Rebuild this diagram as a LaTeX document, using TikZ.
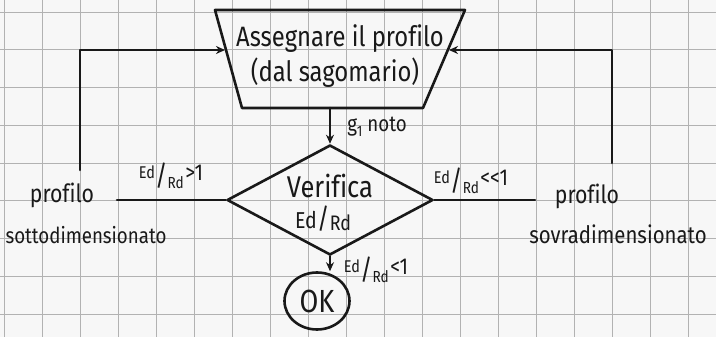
\documentclass[tikz,border=0pt]{standalone}
\usepackage{fontspec}
\setmainfont{Fira Sans}[FakeStretch=0.85, Ligatures=NoCommon]
\usetikzlibrary{shapes.geometric,arrows.meta}

\newcommand\fsz[1]{\fontsize{#1}{#1}\selectfont}
% Ed/Rd written as a slanted fraction, followed by a comparison
\newcommand\edrd[1]{%
  \raisebox{.7em}{\fsz{17}Ed}\kern.02em
  {\fsz{28}/}\kern.02em
  \raisebox{-.35em}{\fsz{16}Rd}\kern.15em
  \raisebox{.45em}{\fsz{23}#1}}

\tikzset{
  gridline/.style={draw=gray!60, line width=0.8pt},
  ink/.style={draw=black!90, line width=2.6pt, line cap=round, line join=round},
  tip/.style={-{Stealth[length=9pt,width=8pt]}},
  hand/.style={inner sep=0pt, text=black!90},
}

\begin{document}
\begin{tikzpicture}[x=1pt, y=-1pt]
  % squared paper
  \fill[white!97!black] (0,0) rectangle (716,337);
  \useasboundingbox (0,0) rectangle (716,337);
  \foreach \i in {0,...,18}
    \draw[gridline] ({4+38*\i},0) -- ({4+38*\i},337);
  \foreach \j in {0,...,8}
    \draw[gridline] (0,{12+37.75*\j}) -- (716,{12+37.75*\j});

  % manual input block (trapezoid)
  \coordinate (tTL) at (215,10);
  \coordinate (tTR) at (465,10);
  \coordinate (tBR) at (423,108);
  \coordinate (tBL) at (242,108);
  \draw[ink] (tTL) -- (tTR) -- (tBR) -- (tBL) -- cycle;
  \coordinate (inL) at (225,50);
  \coordinate (inR) at (449,50);
  \coordinate (outB) at (330,108);
  \node[hand, font=\fsz{28}] (assign) at (340,39) {Assegnare il profilo};
  \node[hand, font=\fsz{28}] (catalog) at (335,73) {(dal sagomario)};

  % check
  \node[diamond, ink, minimum width=206pt, minimum height=110pt, inner sep=0pt] (chk) at (330,200) {};
  \node[hand, font=\fsz{30}] (verif) at (330,186) {Verifica};
  \node[hand] (ratio) at (323,219) {\raisebox{.08em}{\fsz{23}Ed}\kern.03em{\fsz{28}/}\kern.03em\raisebox{-.2em}{\fsz{21}Rd}};

  % result
  \node[ellipse, ink, minimum width=65pt, minimum height=57pt, inner sep=0pt] (ok) at (317,301) {};
  \node[hand, font=\fsz{32}] (oktxt) at (ok.center) {OK};

  % outcomes
  \node[hand, font=\fsz{25}] (subA) at (62,195) {profilo};
  \node[hand, font=\fsz{22}] (subB) at (86,235) {sottodimensionato};
  \node[hand, font=\fsz{25}] (overA) at (587,196) {profilo};
  \node[hand, font=\fsz{24}] (overB) at (618,234) {sovradimensionato};
  \coordinate (subEnd) at (117,200);
  \coordinate (subUp) at (80,170);
  \coordinate (overEnd) at (535,200);
  \coordinate (overUp) at (612,163);

  % connectors
  \draw[ink, tip] (outB) -- (chk.north);
  \draw[ink] (chk.west) -- (subEnd);
  \draw[ink, tip] (subUp) |- (inL);
  \draw[ink] (chk.east) -- (overEnd);
  \draw[ink, tip] (overUp) |- (inR);
  \draw[ink, tip] (chk.south) -- (chk.south |- ok.north);

  % connector labels
  \node[hand, font=\fsz{22}] (gl) at (377,127) {g\raisebox{-.2em}{\fsz{15}1} noto};
  \node[hand] (lblL) at (171,176) {\edrd{>1}};
  \node[hand] (lblR) at (471,181) {\edrd{<\kern0pt<1}};
  \node[hand] (lblB) at (376,270) {\edrd{<1}};
\end{tikzpicture}
\end{document}
